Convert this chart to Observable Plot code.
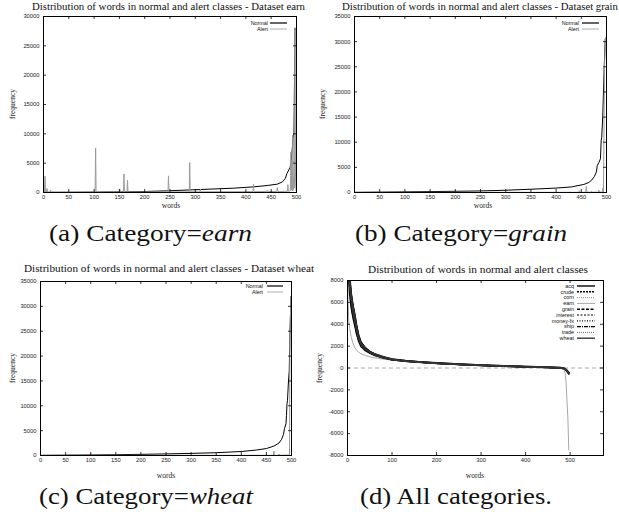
<!DOCTYPE html>
<html><head><meta charset="utf-8">
<script src="https://cdn.jsdelivr.net/npm/d3@7"></script>
<script src="https://cdn.jsdelivr.net/npm/@observablehq/plot@0.6"></script>
<style>
body{margin:0;background:#fff;}
#root{position:relative;width:619px;height:512px;overflow:hidden;background:#fff;}
#root > svg{position:absolute;}
</style></head><body><div id="root"></div>
<script>
// ---------------- data ----------------
const xTicks500 = [0, 50, 100, 150, 200, 250, 300, 350, 400, 450, 500];
const yTicks30k = [0, 5000, 10000, 15000, 20000, 25000, 30000];
const yTicks35k = [0, 5000, 10000, 15000, 20000, 25000, 30000, 35000];
const xTicksAll = [0, 100, 200, 300, 400, 500];
const yTicksAll = [-8000, -6000, -4000, -2000, 0, 2000, 4000, 6000, 8000];

// (a) earn
const earnNormalX = [0, 50, 100, 150, 200, 244, 310, 376, 415, 442, 462, 472, 478, 481, 487, 489, 492, 493.5, 495, 497];
const earnNormalY = [20, 40, 70, 110, 170, 280, 510, 740, 960, 1190, 1420, 1800, 2400, 3230, 4200, 4900, 7800, 9750, 10000, 28000];
const earnAlertX = [0, 2, 3, 4, 6, 7, 8, 13, 14, 15, 102, 103, 104, 150, 151, 152, 158, 159, 160, 165, 166, 167, 246, 247, 248, 288, 289, 290, 309, 310, 311, 414, 415, 416, 441, 442, 443, 461, 462, 463, 482, 483, 484, 488, 489, 490, 491, 492, 493, 494, 495, 496, 497, 498, 499];
const earnAlertY = [60, 80, 2780, 60, 90, 680, 60, 70, 400, 60, 70, 7600, 70, 80, 570, 80, 90, 3170, 90, 90, 2100, 90, 100, 2830, 100, 110, 5100, 110, 120, 570, 120, 150, 1400, 150, 160, 400, 160, 180, 850, 180, 200, 1360, 200, 300, 6900, 400, 5500, 300, 9500, 400, 2700, 800, 27700, 2600, 300];

// (b) grain
const grainNormalX = [0, 50, 100, 150, 200, 250, 300, 350, 400, 430, 455, 465, 471, 476, 480, 481.5, 485, 488, 489.5, 490.5, 492.5, 494, 495.5, 497.5];
const grainNormalY = [30, 80, 130, 180, 240, 310, 450, 650, 880, 1100, 1600, 2000, 2500, 3200, 4100, 5300, 6000, 6700, 10400, 11000, 15000, 20000, 25000, 30500];
const grainAlertX = [0, 445, 446, 447, 459, 460, 461, 469, 470, 471, 484, 485, 486, 492, 493, 494, 496, 498];
const grainAlertY = [30, 40, 350, 40, 50, 1200, 50, 60, 250, 60, 70, 450, 70, 80, 900, 100, 25000, 30800];

// (c) wheat
const wheatNormalX = [0, 50, 100, 150, 200, 250, 300, 350, 400, 430, 450, 465, 475, 480, 484, 486, 489, 490, 491, 492, 494, 495.5, 497, 499];
const wheatNormalY = [30, 70, 110, 160, 230, 320, 430, 560, 800, 1100, 1400, 1900, 2500, 3200, 4200, 5400, 6400, 8000, 10400, 11000, 15000, 17000, 25000, 32000];
const wheatAlertX = [0, 464, 465, 466, 474, 475, 476, 496, 497, 499];
const wheatAlertY = [30, 40, 900, 40, 50, 300, 50, 100, 25000, 32000];

// (d) all categories
const categories = ["acq", "crude", "corn", "earn", "grain", "interest", "money-fx", "ship", "trade", "wheat"];
const allX = [0, 2, 4, 6, 8, 10, 13, 16, 20, 25, 30, 40, 50, 60, 80, 100, 130, 160, 200, 250, 300, 350, 400, 450, 480, 488, 493, 497];
const acqY      = [17000, 12000, 9200, 7700, 6800, 6200, 5500, 4900, 3900, 2950, 2350, 1820, 1500, 1290, 1010, 800, 655, 560, 450, 348, 258, 186, 124, 62, 12, -60, -250, -520];
const crudeY    = [14000, 10000, 8200, 7000, 6300, 5700, 5000, 4400, 3500, 2650, 2150, 1700, 1420, 1220, 960, 770, 630, 540, 430, 330, 245, 175, 115, 55, 5, -80, -300, -450];
const cornY     = [12000, 9000, 7500, 6500, 5800, 5200, 4600, 4000, 3200, 2450, 2000, 1600, 1360, 1160, 915, 740, 610, 525, 420, 322, 238, 168, 108, 48, 0, -60, -200, -350];
const grainY    = [15000, 10500, 8500, 7200, 6500, 5900, 5200, 4600, 3600, 2750, 2200, 1730, 1440, 1240, 970, 775, 635, 545, 435, 335, 250, 178, 118, 58, 8, -70, -260, -480];
const interestY = [13000, 9500, 7900, 6800, 6100, 5500, 4850, 4250, 3400, 2600, 2100, 1660, 1400, 1200, 950, 760, 625, 535, 428, 328, 243, 173, 113, 53, 3, -50, -220, -400];
const moneyfxY  = [18000, 12500, 9500, 7900, 7000, 6400, 5600, 5000, 4000, 3000, 2400, 1850, 1520, 1300, 1020, 805, 660, 565, 452, 350, 260, 188, 126, 64, 14, -40, -180, -420];
const shipY     = [11000, 8500, 7100, 6200, 5500, 5000, 4400, 3850, 3100, 2400, 1960, 1570, 1340, 1150, 905, 735, 605, 520, 415, 318, 235, 165, 106, 46, 0, -70, -240, -380];
const tradeY    = [14500, 10200, 8400, 7100, 6400, 5800, 5100, 4500, 3550, 2700, 2180, 1720, 1430, 1230, 965, 772, 632, 542, 432, 332, 247, 176, 116, 56, 6, -55, -230, -460];
const wheatY    = [15500, 10800, 8700, 7400, 6600, 6000, 5300, 4700, 3700, 2800, 2250, 1760, 1460, 1255, 985, 782, 642, 550, 440, 340, 253, 180, 120, 60, 9, -65, -270, -500];
const earnAllX  = [0, 1, 3, 5, 8, 12, 16, 20, 25, 30, 40, 50, 60, 80, 100, 130, 160, 200, 250, 300, 350, 400, 450, 480, 486, 489, 491, 493, 495, 497];
const earnAllY  = [9500, 6500, 4200, 3600, 2900, 2300, 1900, 1650, 1450, 1300, 1150, 1030, 940, 810, 720, 610, 530, 430, 340, 260, 190, 130, 80, 40, -100, -500, -1400, -3000, -4600, -7500];

// ---------------- styles ----------------
const SANS = "Liberation Sans, Arial, Helvetica, sans-serif";
const SERIF = "'Liberation Serif', 'Times New Roman', serif";
const NORMAL = {stroke: "#000", strokeWidth: 1, dash: null};
const ALERT = {stroke: "#9a9a9a", strokeWidth: 1, dash: null};
const catStyle = {
  "acq":      {stroke: "#000", strokeWidth: 2, dash: null},
  "crude":    {stroke: "#000", strokeWidth: 1.6, dash: "2,1"},
  "corn":     {stroke: "#888", strokeWidth: 1, dash: "1,1"},
  "earn":     {stroke: "#a8a8a8", strokeWidth: 1, dash: null},
  "grain":    {stroke: "#000", strokeWidth: 1.4, dash: "3,1.5"},
  "interest": {stroke: "#000", strokeWidth: 1.2, dash: "2,1.5"},
  "money-fx": {stroke: "#000", strokeWidth: 1.2, dash: "1,1.5"},
  "ship":     {stroke: "#000", strokeWidth: 1.2, dash: "4,1,1,1"},
  "trade":    {stroke: "#666", strokeWidth: 1, dash: "1,1"},
  "wheat":    {stroke: "#333", strokeWidth: 2, dash: null}
};
const catData = {
  "acq": [allX, acqY], "crude": [allX, crudeY], "corn": [allX, cornY], "earn": [earnAllX, earnAllY],
  "grain": [allX, grainY], "interest": [allX, interestY], "money-fx": [allX, moneyfxY],
  "ship": [allX, shipY], "trade": [allX, tradeY], "wheat": [allX, wheatY]
};

const root = document.getElementById("root");

function legendMark(items, o) {
  return (index, scales, values, dims) => {
    const g = d3.create("svg:g");
    const xr = dims.width - dims.marginRight - o.right;
    items.forEach((it, i) => {
      const y = dims.marginTop + o.top + i * o.step;
      g.append("line").attr("x1", xr - o.len).attr("x2", xr).attr("y1", y).attr("y2", y)
        .attr("stroke", it.stroke).attr("stroke-width", Math.min(it.strokeWidth, 1.4))
        .attr("stroke-dasharray", it.dash);
      g.append("text").attr("x", xr - o.len - o.gap).attr("y", y).attr("dy", "0.35em")
        .attr("text-anchor", "end").attr("font-size", 5.4).attr("font-family", SANS)
        .attr("fill", "#111").text(it.label);
    });
    return g.node();
  };
}

function panel(p) {
  const [mt, mr, mb, ml] = p.margins;
  const fw = p.width - ml - mr, fh = p.height - mt - mb;
  const marks = [];
  if (p.zero) marks.push(Plot.ruleY([0], {stroke: "#aaa", strokeWidth: 1, strokeDasharray: "4,3"}));
  for (const s of p.series) {
    const data = s.x.map((x, i) => ({x, y: s.y[i]}));
    marks.push(Plot.line(data, {x: "x", y: "y", stroke: s.stroke, strokeWidth: s.strokeWidth,
      strokeDasharray: s.dash, clip: true, strokeLinejoin: "round"}));
  }
  marks.push(
    Plot.tickX(p.xTicks, {x: d => d, insetTop: fh - 3, stroke: "#000", strokeWidth: 0.8}),
    Plot.tickX(p.xTicks, {x: d => d, insetBottom: fh - 3, stroke: "#000", strokeWidth: 0.8}),
    Plot.tickY(p.yTicks, {y: d => d, insetRight: fw - 3, stroke: "#000", strokeWidth: 0.8}),
    Plot.tickY(p.yTicks, {y: d => d, insetLeft: fw - 3, stroke: "#000", strokeWidth: 0.8}),
    Plot.axisX(p.xTicks, {tickSize: 0, tickPadding: 2, label: null, tickFormat: d => String(d),
      fontSize: 5.8, fill: "#222"}),
    Plot.axisY(p.yTicks, {tickSize: 0, tickPadding: 4, label: null, tickFormat: d => String(d),
      fontSize: 5.8, fill: "#222"}),
    Plot.frame({stroke: "#000", strokeWidth: 1}),
    legendMark(p.legend, p.legendOpts)
  );
  const svg = Plot.plot({
    width: p.width, height: p.height,
    marginTop: mt, marginRight: mr, marginBottom: mb, marginLeft: ml,
    x: {domain: p.xDomain, axis: null},
    y: {domain: p.yDomain, axis: null},
    style: {fontFamily: SANS, fontSize: "5.8px", background: "transparent", overflow: "visible"},
    marks
  });
  svg.style.left = p.left + "px";
  svg.style.top = p.top + "px";
  root.appendChild(svg);
}

const nlLegend = [
  {label: "Normal", stroke: "#000", strokeWidth: 1.2, dash: null},
  {label: "Alert", stroke: "#bbb", strokeWidth: 1.2, dash: null}
];

panel({left: 0, top: 0, width: 310, height: 212, margins: [16, 14, 20, 43],
  xDomain: [0, 500], yDomain: [0, 30000], xTicks: xTicks500, yTicks: yTicks30k,
  series: [{x: earnNormalX, y: earnNormalY, ...NORMAL}, {x: earnAlertX, y: earnAlertY, ...ALERT}],
  legend: nlLegend, legendOpts: {right: 9, top: 7, step: 6, len: 17, gap: 2}});

panel({left: 310, top: 0, width: 309, height: 212, margins: [16, 13, 20, 44],
  xDomain: [0, 500], yDomain: [0, 35000], xTicks: xTicks500, yTicks: yTicks35k,
  series: [{x: grainNormalX, y: grainNormalY, ...NORMAL}, {x: grainAlertX, y: grainAlertY, ...ALERT}],
  legend: nlLegend, legendOpts: {right: 7, top: 7, step: 6, len: 17, gap: 3}});

panel({left: 0, top: 255, width: 310, height: 225, margins: [26, 19, 25, 40],
  xDomain: [0, 500], yDomain: [0, 35000], xTicks: xTicks500, yTicks: yTicks35k,
  series: [{x: wheatNormalX, y: wheatNormalY, ...NORMAL}, {x: wheatAlertX, y: wheatAlertY, ...ALERT}],
  legend: nlLegend, legendOpts: {right: 8, top: 5, step: 6, len: 16, gap: 4}});

panel({left: 310, top: 255, width: 309, height: 225, margins: [25, 16, 25, 37],
  xDomain: [0, 575], yDomain: [-8000, 8000], xTicks: xTicksAll, yTicks: yTicksAll, zero: true,
  series: categories.map(c => ({x: catData[c][0], y: catData[c][1], ...catStyle[c]})),
  legend: categories.map(c => ({label: c, ...catStyle[c]})),
  legendOpts: {right: 8, top: 6, step: 5.8, len: 18, gap: 3}});

// ---------------- titles, axis labels, captions ----------------
const ov = d3.select(root).append("svg").attr("width", 619).attr("height", 512)
  .style("left", "0px").style("top", "0px").style("pointer-events", "none");

const titles = [
  {text: "Distribution of words in normal and alert classes - Dataset earn", x: 168.5, y: 10, len: 273},
  {text: "Distribution of words in normal and alert classes - Dataset grain", x: 480, y: 10, len: 276},
  {text: "Distribution of words in normal and alert classes - Dataset wheat", x: 169, y: 272, len: 290},
  {text: "Distribution of words in normal and alert classes", x: 478, y: 273, len: 220}
];
for (const t of titles) {
  ov.append("text").attr("x", t.x).attr("y", t.y).attr("text-anchor", "middle")
    .style("font-family", SERIF).attr("font-size", 10).attr("fill", "#111")
    .attr("textLength", t.len).attr("lengthAdjust", "spacingAndGlyphs").text(t.text);
}
const xLabels = [{x: 171, y: 208}, {x: 483, y: 208}, {x: 166, y: 478}, {x: 475, y: 478}];
for (const l of xLabels) {
  ov.append("text").attr("x", l.x).attr("y", l.y).attr("text-anchor", "middle")
    .style("font-family", SERIF).attr("font-size", 7.5).attr("fill", "#222").text("words");
}
const yLabels = [{x: 12, y: 104}, {x: 322, y: 104}, {x: 12, y: 368}, {x: 319, y: 368}];
for (const l of yLabels) {
  ov.append("text").attr("transform", `translate(${l.x},${l.y}) rotate(-90)`)
    .attr("text-anchor", "middle").attr("dy", "0.35em")
    .style("font-family", SERIF).attr("font-size", 7.5).attr("fill", "#222").text("frequency");
}
const captions = [
  {pre: "(a) Category=", it: "earn", x: 150.5, y: 241, len: 203},
  {pre: "(b) Category=", it: "grain", x: 461, y: 241, len: 212},
  {pre: "(c) Category=", it: "wheat", x: 146, y: 504, len: 214},
  {pre: "(d) All categories.", it: "", x: 456, y: 504, len: 192}
];
for (const c of captions) {
  const t = ov.append("text").attr("x", c.x).attr("y", c.y).attr("text-anchor", "middle")
    .style("font-family", SERIF).attr("font-size", 23).attr("fill", "#111")
    .attr("textLength", c.len).attr("lengthAdjust", "spacingAndGlyphs");
  t.append("tspan").text(c.pre);
  if (c.it) t.append("tspan").style("font-style", "italic").text(c.it);
}
</script>
</body></html>
